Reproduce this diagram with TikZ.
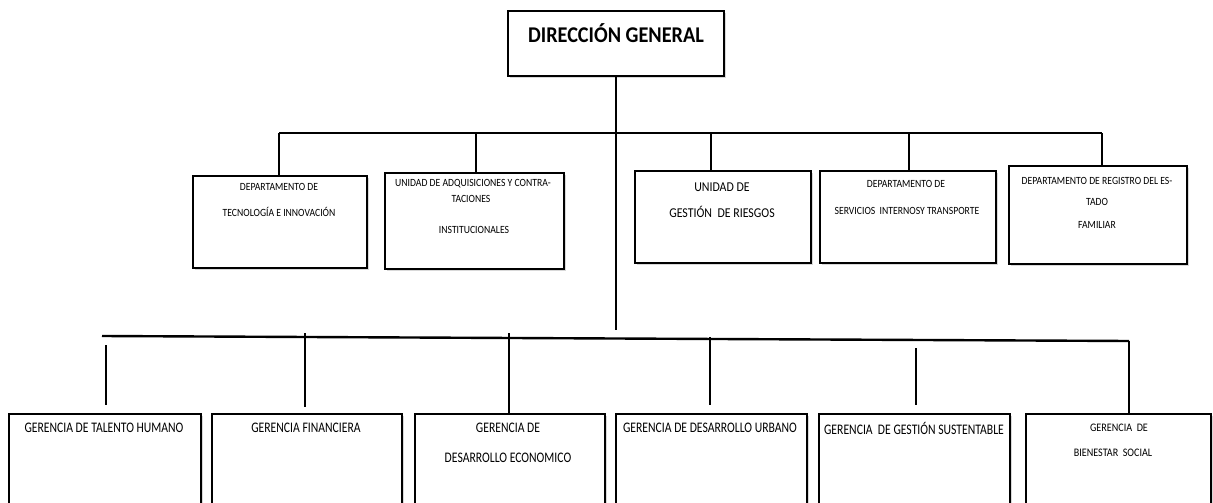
\documentclass[tikz,border=0pt]{standalone}
\usepackage{fontspec}
\setmainfont{Carlito}
\newfontfamily\orgfont[FakeStretch=0.88]{Carlito}
\newfontfamily\tallfont[FakeStretch=0.80]{Carlito}
\newfontfamily\headfont[FakeStretch=0.90]{Carlito}
\usetikzlibrary{shadows}
\begin{document}
\begin{tikzpicture}[x=1pt,y=-1pt,
  unitbox/.style={draw=black, line width=2pt, fill=white, rectangle, inner sep=0pt, anchor=north west,
    drop shadow={shadow xshift=2pt, shadow yshift=-2pt, opacity=0.3, fill=black!50}},
  link/.style={line width=1.6pt, black},
  busline/.style={line width=2.4pt, black},
  title/.style={font=\fontsize{22.5}{26}\selectfont\headfont\bfseries, inner sep=0pt},
  small/.style={font=\fontsize{11}{13}\selectfont\orgfont, inner sep=0pt},
  mid/.style={font=\fontsize{13.5}{16}\selectfont\orgfont, inner sep=0pt},
  big/.style={font=\fontsize{14.6}{17}\selectfont\tallfont, inner sep=0pt},
]
\clip (0,0) rectangle (1213,503);
\fill[white] (0,0) rectangle (1213,503);

% head office
\node[unitbox, minimum width=216pt, minimum height=65pt] (dg) at (507,10) {};
\node[title] (dgt) at (616,33) {DIRECCIÓN GENERAL};

% staff units
\node[unitbox, minimum width=174pt, minimum height=92pt] (u1) at (192,175) {};
\node[unitbox, minimum width=179pt, minimum height=96pt] (u2) at (384,172) {};
\node[unitbox, minimum width=176pt, minimum height=92pt] (u3) at (634,170) {};
\node[unitbox, minimum width=176pt, minimum height=92pt] (u4) at (819,170) {};
\node[unitbox, minimum width=178pt, minimum height=98pt] (u5) at (1008,165) {};

\node[small] (u1a) at (279,187) {DEPARTAMENTO DE};
\node[small] (u1b) at (279,212) {TECNOLOGÍA E INNOVACIÓN};
\node[small] (u2a) at (473,184) {UNIDAD DE ADQUISICIONES Y CONTRA-};
\node[small] (u2b) at (471,199) {TACIONES};
\node[small] (u2c) at (474,230) {INSTITUCIONALES};
\node[mid] (u3a) at (722,187) {UNIDAD DE};
\node[mid] (u3b) at (722,212) {GESTIÓN\ \ DE RIESGOS};
\node[small] (u4a) at (906,184) {DEPARTAMENTO DE};
\node[small] (u4b) at (907,211) {SERVICIOS\ \ INTERNOSY TRANSPORTE};
\node[small] (u5a) at (1097,181) {DEPARTAMENTO DE REGISTRO DEL ES-};
\node[small] (u5b) at (1097,202) {TADO};
\node[small] (u5c) at (1097,225) {FAMILIAR};

% management offices
\node[unitbox, minimum width=192pt, minimum height=102pt] (l1) at (8,413) {};
\node[unitbox, minimum width=190pt, minimum height=102pt] (l2) at (211,413) {};
\node[unitbox, minimum width=190pt, minimum height=102pt] (l3) at (414,413) {};
\node[unitbox, minimum width=191pt, minimum height=102pt] (l4) at (615,413) {};
\node[unitbox, minimum width=191pt, minimum height=102pt] (l5) at (818,413) {};
\node[unitbox, minimum width=185pt, minimum height=102pt] (l6) at (1025,413) {};

\node[big] (l1a) at (104,428) {GERENCIA DE TALENTO HUMANO};
\node[big] (l2a) at (306,428) {GERENCIA FINANCIERA};
\node[big] (l3a) at (508,428) {GERENCIA DE};
\node[big] (l3b) at (508,458) {DESARROLLO ECONOMICO};
\node[big] (l4a) at (710,428) {GERENCIA DE DESARROLLO URBANO};
\node[big] (l5a) at (914,428) {GERENCIA\ \ DE GESTIÓN SUSTENTABLE};
\node[small, font=\fontsize{11.5}{14}\selectfont\orgfont] (l6a) at (1119,428) {GERENCIA\ \ DE};
\node[small, font=\fontsize{11.5}{14}\selectfont\orgfont] (l6b) at (1113,453) {BIENESTAR\ \ SOCIAL};

% trunk
\coordinate (trunk) at (616,330);
\draw[link] (dg.south) -- (trunk);

% upper bus and drops
\coordinate (d1) at (279,133);
\coordinate (d2) at (476,133);
\coordinate (d3) at (711,133);
\coordinate (d4) at (909,133);
\coordinate (d5) at (1102,133);
\draw[busline] (d1) -- (d5);
\draw[link] (d1) -- (d1 |- u1.north);
\draw[link] (d2) -- (d2 |- u2.north);
\draw[link] (d3) -- (d3 |- u3.north);
\draw[link] (d4) -- (d4 |- u4.north);
\draw[link] (d5) -- (d5 |- u5.north);

% lower bus and drops
\coordinate (lbl) at (102,336);
\coordinate (lbr) at (1129,341);
\draw[busline] (lbl) -- (lbr);
\coordinate (s1) at (106,345); \coordinate (e1) at (106,405);
\coordinate (s2) at (305,333); \coordinate (e2) at (305,407);
\coordinate (s3) at (509,333);
\coordinate (s4) at (710,337); \coordinate (e4) at (710,405);
\coordinate (s5) at (916,348); \coordinate (e5) at (916,405);
\draw[link] (s1) -- (e1);
\draw[link] (s2) -- (e2);
\draw[link] (s3) -- (s3 |- l3.north);
\draw[link] (s4) -- (e4);
\draw[link] (s5) -- (e5);
\draw[link] (lbr) -- (lbr |- l6.north);
\end{tikzpicture}
\end{document}
